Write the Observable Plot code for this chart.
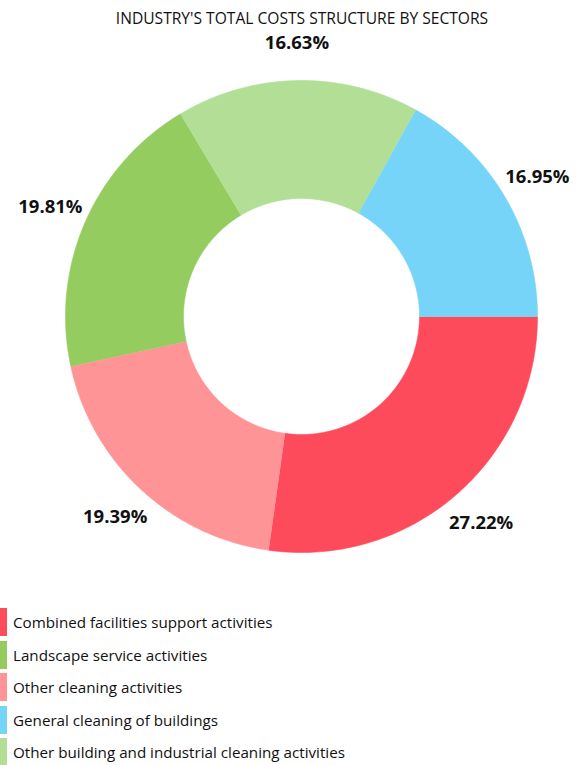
<!DOCTYPE html>
<html><head><meta charset="utf-8">
<script src="https://cdn.jsdelivr.net/npm/d3@7"></script>
<script src="https://cdn.jsdelivr.net/npm/@observablehq/plot@0.6"></script>
<style>
body{margin:0;background:#fff;font-family:"Open Sans","Noto Sans",sans-serif;color:#111;width:582px;}
#title{height:30px;line-height:36px;text-align:center;font-size:15.6px;padding-left:22px;box-sizing:border-box;white-space:nowrap;}
#legend{margin-top:6px;}
.row{display:flex;align-items:center;height:32.5px;font-size:15.2px;}
.sw{width:7px;height:28px;margin-right:6px;}
</style></head>
<body>
<div id="title">INDUSTRY'S TOTAL COSTS STRUCTURE BY SECTORS</div>
<div id="chart"></div>
<div id="legend"></div>
<script>
// Slices in drawing order (clockwise from 3 o'clock)
const sectors = ["Combined facilities support activities","Other cleaning activities","Landscape service activities","Other building and industrial cleaning activities","General cleaning of buildings"];
const shares = [27.22, 19.39, 19.81, 16.63, 16.95];
const colors = ["#fe4b5c","#ff9497","#95cc60","#b2de96","#75d4f7"];
const legendOrder = ["Combined facilities support activities","Landscape service activities","Other cleaning activities","General cleaning of buildings","Other building and industrial cleaning activities"];

const data = sectors.map((name,i)=>({name, value: shares[i]}));
const arcs = d3.pie().sort(null).value(d=>d.value).startAngle(Math.PI/2).endAngle(Math.PI/2+2*Math.PI)(data);
const inner = 0.5, outer = 1, labelR = 1.16;
const pts = [];
for (const a of arcs) {
  const n = 120;
  for (let k=0;k<=n;k++){const t=a.startAngle+(a.endAngle-a.startAngle)*k/n; pts.push({name:a.data.name,x:outer*Math.sin(t),y:outer*Math.cos(t)});}
  for (let k=n;k>=0;k--){const t=a.startAngle+(a.endAngle-a.startAngle)*k/n; pts.push({name:a.data.name,x:inner*Math.sin(t),y:inner*Math.cos(t)});}
}
const labels = arcs.map(a=>{const m=(a.startAngle+a.endAngle)/2; return {x:labelR*Math.sin(m), y:labelR*Math.cos(m), text:a.data.value.toFixed(2)+"%"};});

const cx=301, cy=286, R=236;
const plot = Plot.plot({
  width:582, height:570, margin:0,
  x:{domain:[-1,1], range:[cx-R,cx+R], axis:null},
  y:{domain:[-1,1], range:[cy+R,cy-R], axis:null},
  color:{domain:sectors, range:colors},
  style:{fontFamily:'"Open Sans","Noto Sans",sans-serif'},
  marks:[
    Plot.line(pts,{x:"x",y:"y",z:"name",fill:"name",stroke:"name",strokeWidth:0.6}),
    Plot.text(labels,{x:"x",y:"y",text:"text",fontSize:18.5,fontWeight:"bold",fill:"#111"})
  ]
});
document.getElementById("chart").appendChild(plot);
const lg=document.getElementById("legend");
for(const name of legendOrder){
  const r=document.createElement("div");r.className="row";
  const s=document.createElement("div");s.className="sw";s.style.background=colors[sectors.indexOf(name)];
  const t=document.createElement("span");t.textContent=name;
  r.appendChild(s);r.appendChild(t);lg.appendChild(r);
}
</script>
</body></html>
